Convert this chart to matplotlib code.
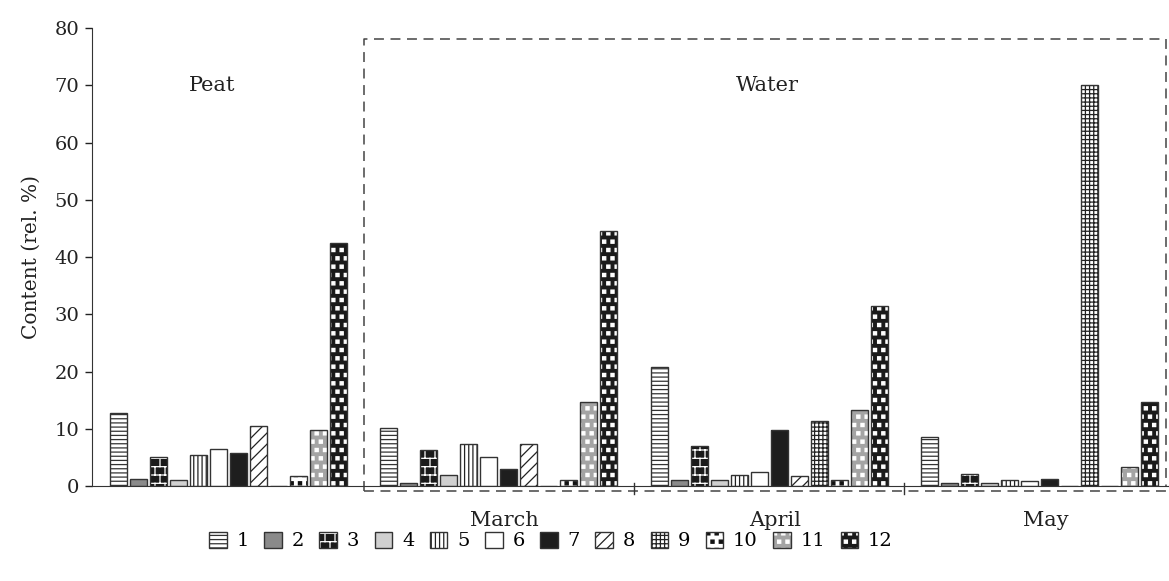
import matplotlib.pyplot as plt
import matplotlib.hatch as mhatch
import numpy as np
from matplotlib.path import Path
from matplotlib.patches import Rectangle
from matplotlib.legend_handler import HandlerTuple

plt.rcParams['font.family'] = ['DejaVu Serif']
plt.rcParams['hatch.linewidth'] = 0.9

components = [str(i) for i in range(1, 13)]
months = ['March', 'April', 'May']

# relative content (%) of components 1..12
peat  = [12.8, 1.3, 5.0, 1.0, 5.5, 6.5, 5.7, 10.5, 0.0, 1.8, 9.8, 42.5]
march = [10.2, 0.5, 6.3, 2.0, 7.4, 5.0, 3.0, 7.3, 0.0, 1.0, 14.7, 44.5]
april = [20.7, 1.0, 7.0, 1.1, 2.0, 2.4, 9.7, 1.7, 11.3, 1.0, 13.2, 31.5]
may   = [8.6, 0.6, 2.1, 0.6, 1.0, 0.9, 1.2, 0.0, 70.0, 0.0, 3.4, 14.7]


# square dots instead of the small round ones for '.'
class SquareDots(mhatch.Shapes):
    size = 0.38
    filled = True

    def __init__(self, hatch, density):
        self.num_rows = hatch.count('.') * density
        self.shape_vertices = np.array([[-0.5, -0.5], [0.5, -0.5], [0.5, 0.5],
                                        [-0.5, 0.5], [-0.5, -0.5]])
        self.shape_codes = np.array([Path.MOVETO, Path.LINETO, Path.LINETO,
                                     Path.LINETO, Path.CLOSEPOLY], dtype=Path.code_type)
        super().__init__(hatch, density)


# brick wall pattern for 'O'
class Bricks(mhatch.HatchPatternBase):
    def __init__(self, hatch, density):
        self.num_rows = hatch.count('O') * density
        self.num_cols = int(round(self.num_rows * 0.8))
        if self.num_rows == 0:
            self.num_vertices = 0
        else:
            self.num_vertices = (2 * (self.num_rows + 1)
                                 + 2 * self.num_rows * (self.num_cols + 1))

    def set_vertices_and_codes(self, vertices, codes):
        n, m = self.num_rows, self.num_cols
        v = []
        for k in range(n + 1):
            v += [(0, k / n), (1, k / n)]
        for k in range(n):
            shift = 0.5 if k % 2 else 0.0
            for j in range(m + 1):
                x = (j + shift) / m
                v += [(x, k / n), (x, (k + 1) / n)]
        vertices[:] = v
        codes[0::2] = Path.MOVETO
        codes[1::2] = Path.LINETO


mhatch._hatch_types = [Bricks if t is mhatch.LargeCircles
                       else SquareDots if t is mhatch.SmallFilledCircles
                       else t for t in mhatch._hatch_types]

# (face colour, hatch, hatch colour) per component
styles = [
    ('white', '----', '#333333'),
    ('#8a8a8a', '', None),
    ('#1a1a1a', 'OO', 'white'),
    ('#d0d0d0', '', None),
    ('white', '||||', '#222222'),
    ('white', '', None),
    ('#1e1e1e', '', None),
    ('white', '///', '#222222'),
    ('white', '++++', '#222222'),
    ('white', '..', '#111111'),
    ('#a4a4a4', '..', 'white'),
    ('#1a1a1a', '..', 'white'),
]

values = np.array([peat, march, april, may])
group_x = np.arange(4) * 13.5
width = 0.85
outline = '#333333'

fig = plt.figure(figsize=(11.69, 5.81), dpi=100)
ax = fig.add_axes([0.0787, 0.1635, 0.9213, 0.7883])

handles = []
for j in range(12):
    face, hatch, hc = styles[j]
    xs = group_x + j
    ax.bar(xs, values[:, j], width=width, color=face, edgecolor=hc or face,
           linewidth=0, hatch=hatch, zorder=2)
    ax.bar(xs, values[:, j], width=width, fill=False, edgecolor=outline,
           linewidth=1.0, zorder=3)
    base = Rectangle((0, 0), 1, 1, facecolor=face, edgecolor=hc or face,
                     linewidth=0, hatch=hatch)
    edge = Rectangle((0, 0), 1, 1, fill=False, edgecolor=outline, linewidth=1.0)
    handles.append((base, edge))

ax.set_xlim(-1.32, 52.47)
ax.set_ylim(0, 80)
ax.set_yticks(np.arange(0, 81, 10))
ax.set_xticks([])
ax.tick_params(axis='y', labelsize=14, length=5, width=1, pad=4, colors='#222222')
for s in ['top', 'right']:
    ax.spines[s].set_visible(False)
ax.spines['left'].set_color('#333333')
ax.spines['bottom'].set_color('#333333')
ax.set_ylabel('Content (rel. %)', fontsize=14.5, color='#222222', labelpad=10)

# dashed frame around the water samples
left_edge = (group_x[0] + 11 + group_x[1]) / 2
dash = (0, (6.5, 4.3))
bottom = -0.9
top = 78
right_edge = 52.3
ax.plot([left_edge, left_edge, right_edge, right_edge],
        [bottom, top, top, 0], color='#444444', lw=1.1, ls=dash, clip_on=False)
ax.plot([left_edge, right_edge], [bottom, bottom], color='#444444', lw=1.1,
        ls=dash, clip_on=False)

# separators between months
for k in range(1, 3):
    sx = (group_x[k] + 11 + group_x[k + 1]) / 2
    ax.plot([sx, sx], [0.5, -1.4], color='#333333', lw=1, clip_on=False)

ax.text(group_x[0] + 4.7, 70, 'Peat', fontsize=15, ha='center', va='center', color='#222222')
ax.text(group_x[2] + 5.4, 70, 'Water', fontsize=15, ha='center', va='center', color='#222222')
for k, m in enumerate(months):
    ax.text(group_x[k + 1] + 5.8, -6.0, m, fontsize=15, ha='center', va='center',
            color='#222222', clip_on=False)

fig.legend(handles, components, handler_map={tuple: HandlerTuple(ndivide=1)},
           loc='center', bbox_to_anchor=(551 / 1169, 1 - 541 / 581), ncol=12,
           frameon=False, fontsize=14, handlelength=0.9, handleheight=0.9,
           handletextpad=0.5, columnspacing=0.8, borderpad=0)

fig.savefig('out.png', dpi=100)
